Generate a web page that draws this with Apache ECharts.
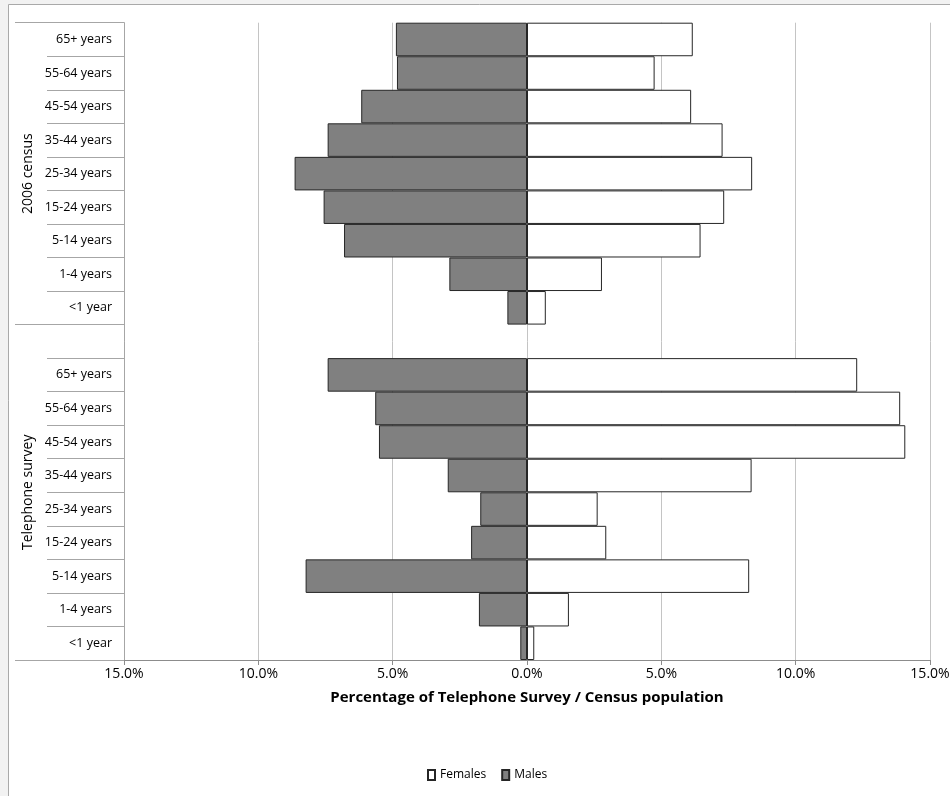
<!DOCTYPE html>
<html>
<head>
<meta charset="utf-8">
<script src="https://cdn.jsdelivr.net/npm/echarts@6/dist/echarts.min.js"></script>
<style>
html,body{margin:0;padding:0;background:#f2f2f2;}
#chart{width:950px;height:796px;}
</style>
</head>
<body>
<div id="chart"></div>
<script>
// ---- data ----
const ageGroups = ['65+ years','55-64 years','45-54 years','35-44 years','25-34 years','15-24 years','5-14 years','1-4 years','<1 year'];
const groupNames = ['2006 census','Telephone survey'];
const censusMales   = [4.88, 4.84, 6.17, 7.42, 8.65, 7.57, 6.81, 2.89, 0.73];
const censusFemales = [6.17, 4.75, 6.11, 7.28, 8.38, 7.34, 6.46, 2.79, 0.70];
const phoneMales    = [7.42, 5.65, 5.51, 2.95, 1.74, 2.08, 8.24, 1.79, 0.25];
const phoneFemales  = [12.29, 13.89, 14.08, 8.36, 2.63, 2.95, 8.27, 1.56, 0.27];
const xTicks = [-15, -10, -5, 0, 5, 10, 15];

// rows: census ages, a blank spacer row, telephone ages
const categories = ageGroups.concat([''], ageGroups);
const malesData = censusMales.map(v => -v).concat([null], phoneMales.map(v => -v));
const femalesData = censusFemales.concat([null], phoneFemales);
const nRows = categories.length;
const groupStart = [0, ageGroups.length];
const groupCenters = [ageGroups.length / 2, (ageGroups.length + nRows) / 2];

const FONT = "'Open Sans','Liberation Sans',sans-serif";
const chart = echarts.init(document.getElementById('chart'), null, {renderer: 'canvas'});

chart.setOption({
  backgroundColor: '#f2f2f2',
  animation: false,
  textStyle: {fontFamily: FONT},
  graphic: [{
    type: 'rect', z: -100, silent: true,
    shape: {x: 8.5, y: 4.5, width: 1000, height: 1000},
    style: {fill: '#ffffff', stroke: '#a9a9a9', lineWidth: 1}
  }],
  legend: {
    top: 764,
    left: 422,
    icon: 'rect',
    itemWidth: 7,
    itemHeight: 10,
    itemGap: 15,
    textStyle: {fontFamily: FONT, fontSize: 12, color: '#000'},
    data: ['Females', 'Males']
  },
  grid: {left: 124, right: 20, top: 22.7, bottom: 136, containLabel: false, outerBoundsMode: 'none'},
  xAxis: {
    type: 'value',
    min: xTicks[0], max: xTicks[xTicks.length - 1], interval: 5,
    axisLine: {show: true, onZero: false, lineStyle: {color: '#8c8c8c', width: 1}},
    axisTick: {show: true, length: 5, lineStyle: {color: '#8c8c8c'}},
    axisLabel: {
      margin: 7, fontSize: 14, color: '#000', fontFamily: FONT,
      formatter: v => Math.abs(v).toFixed(1) + '%'
    },
    splitLine: {show: true, lineStyle: {color: '#c4c4c4', width: 1}},
    name: 'Percentage of Telephone Survey / Census population',
    nameLocation: 'middle',
    nameGap: 30,
    nameTextStyle: {fontFamily: FONT, fontSize: 15, fontWeight: 'bold', color: '#000'}
  },
  yAxis: [
    {
      type: 'category', data: categories, inverse: true, position: 'left',
      axisLine: {show: true, onZero: false, lineStyle: {color: '#a6a6a6'}},
      axisTick: {show: true, length: 77, lineStyle: {color: '#a6a6a6'}},
      axisLabel: {margin: 12, fontSize: 12.5, color: '#000', fontFamily: FONT, interval: 0}
    },
    {
      type: 'value', min: 0, max: nRows, interval: 0.5, inverse: true, position: 'left', offset: 0,
      axisLine: {show: false, onZero: false}, axisTick: {show: false}, splitLine: {show: false},
      axisLabel: {
        rotate: 90, margin: 89, fontSize: 14, color: '#000', fontFamily: FONT,
        formatter: v => v === groupCenters[0] ? groupNames[0] : (v === groupCenters[1] ? groupNames[1] : '')
      }
    },
    {
      type: 'category', data: categories, inverse: true, position: 'left', offset: 0,
      axisLine: {show: false, onZero: false},
      axisTick: {show: true, length: 109, interval: (i) => groupStart.indexOf(i) >= 0, lineStyle: {color: '#a6a6a6'}},
      axisLabel: {show: false}
    }
  ],
  series: [
    {
      name: 'Females', type: 'bar', yAxisIndex: 0, stack: 'pyr',
      barCategoryGap: 0, data: femalesData,
      itemStyle: {color: '#ffffff', borderColor: '#262626', borderWidth: 1}
    },
    {
      name: 'Males', type: 'bar', yAxisIndex: 0, stack: 'pyr',
      barCategoryGap: 0, data: malesData,
      itemStyle: {color: '#808080', borderColor: '#262626', borderWidth: 1}
    }
  ]
});
</script>
</body>
</html>
